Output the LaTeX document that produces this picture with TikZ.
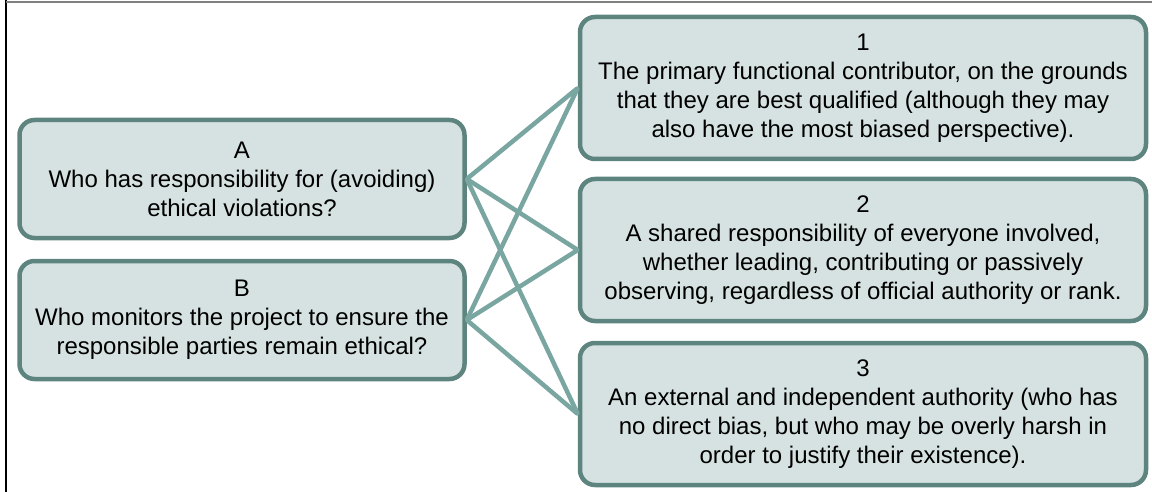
\documentclass[tikz,border=0pt]{standalone}
\usepackage{fontspec}
\setmainfont{Liberation Sans}
\usetikzlibrary{positioning}
\definecolor{boxedge}{HTML}{5E8480}
\definecolor{boxfill}{HTML}{D6E2E1}
\definecolor{linkcol}{HTML}{7AA6A1}
\tikzset{
  every picture/.style={line join=round, line cap=round},
  card/.style={draw=boxedge, fill=boxfill, line width=4.5pt, rounded corners=15pt,
    align=center, inner sep=0pt, font=\fontsize{24}{29}\selectfont},
  qcard/.style={card, minimum width=445pt, minimum height=118pt},
  acard/.style={card, minimum width=566pt, minimum height=142pt},
  link/.style={draw=linkcol, line width=4.5pt, shorten <=1pt, shorten >=1pt},
}
\begin{document}
\begin{tikzpicture}[x=1pt,y=-1pt]
\useasboundingbox (0,0) rectangle (1152,492);
% page frame, left and top only
\draw[black, line width=2.5pt, line cap=butt] (6,0) -- (6,492);
\draw[gray, line width=1.2pt, line cap=butt] (6,2) -- (1152,2);
% questions
\node[qcard] (qA) at (242,179) {A\\Who has responsibility for (avoiding)\\ethical violations?};
\node[qcard] (qB) at (242,320) {B\\Who monitors the project to ensure the\\responsible parties remain ethical?};
% answers
\node[acard] (ans1) at (863,88) {1\\The primary functional contributor, on the grounds\\that they are best qualified (although they may\\also have the most biased perspective).};
\node[acard] (ans2) at (863,250) {2\\A shared responsibility of everyone involved,\\whether leading, contributing or passively\\observing, regardless of official authority or rank.};
\node[acard] (ans3) at (863,414) {3\\An external and independent authority (who has\\no direct bias, but who may be overly harsh in\\order to justify their existence).};
% every question is linked to every answer
\foreach \q in {qA,qB}
  \foreach \a in {ans1,ans2,ans3}
    \draw[link] (\q.east) -- (\a.west);
\end{tikzpicture}
\end{document}
